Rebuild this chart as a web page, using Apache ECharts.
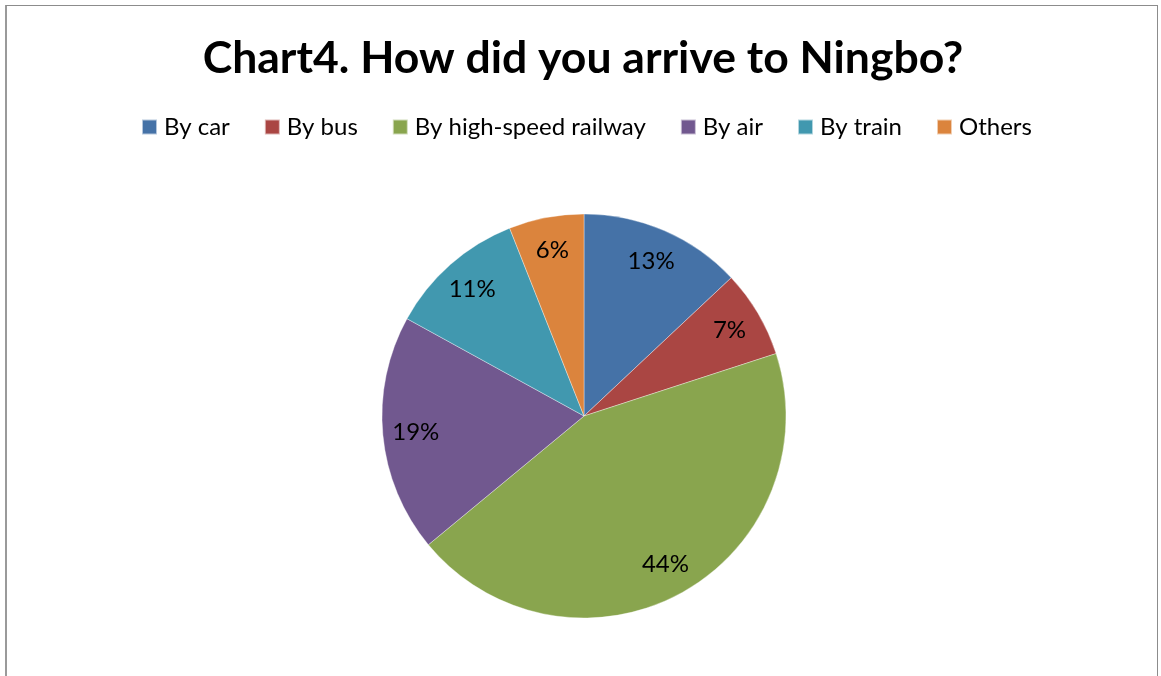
<!DOCTYPE html>
<html>
<head>
<meta charset="utf-8">
<title>Chart4. How did you arrive to Ningbo?</title>
<script src="https://cdn.jsdelivr.net/npm/echarts@6/dist/echarts.min.js"></script>
<style>
  html, body { margin: 0; padding: 0; background: #fff; }
  #chart { width: 1161px; height: 676px; }
</style>
</head>
<body>
<div id="chart"></div>
<script>
// Survey answers: how respondents travelled to Ningbo (share of respondents, %)
const categories = ['By car', 'By bus', 'By high-speed railway', 'By air', 'By train', 'Others'];
const shares = [13, 7, 44, 19, 11, 6];
const colors = ['#4572A7', '#AA4643', '#89A54E', '#71588F', '#4198AF', '#DB843D'];

const FONT = 'Lato, "Open Sans", sans-serif';

const sliceData = categories.map((name, i) => ({ name, value: shares[i], itemStyle: { color: colors[i] } }));
const labelData = categories.map((name, i) => ({ name, value: shares[i] }));

const chart = echarts.init(document.getElementById('chart'), null, { renderer: 'canvas' });

chart.setOption({
  backgroundColor: '#ffffff',
  animation: false,
  title: {
    text: 'Chart4. How did you arrive to Ningbo?',
    left: 578,
    textAlign: 'center',
    top: 31,
    textStyle: { fontFamily: FONT, fontWeight: 'bold', fontSize: 44.5, color: '#000' }
  },
  legend: {
    data: categories,
    left: 136,
    top: 110,
    width: 1000,
    itemWidth: 15,
    itemHeight: 15,
    itemGap: 34,
    icon: 'rect',
    selectedMode: false,
    textStyle: { fontFamily: FONT, fontSize: 24, color: '#000', padding: [0, 0, 0, 2] }
  },
  graphic: [
    { type: 'rect', shape: { x: 5, y: 5, width: 2, height: 680 }, style: { fill: '#9a9a9a' }, silent: true },
    { type: 'line', shape: { x1: 6, y1: 5.5, x2: 1158, y2: 5.5 }, style: { stroke: '#8c8c8c', lineWidth: 1 }, silent: true },
    { type: 'line', shape: { x1: 1157.5, y1: 5, x2: 1157.5, y2: 680 }, style: { stroke: '#8c8c8c', lineWidth: 1 }, silent: true }
  ],
  series: [
    {
      // the slices themselves
      type: 'pie',
      center: [584, 416],
      radius: [0, 202],
      startAngle: 90,
      clockwise: true,
      avoidLabelOverlap: false,
      label: { show: false },
      labelLine: { show: false },
      itemStyle: { borderColor: 'rgba(255,255,255,0.6)', borderWidth: 0.6 },
      emphasis: { disabled: true },
      data: sliceData
    },
    {
      // transparent ring carrying the percentage labels
      type: 'pie',
      center: [584, 416],
      radius: [130, 202],
      startAngle: 90,
      clockwise: true,
      silent: true,
      avoidLabelOverlap: false,
      itemStyle: { color: 'rgba(0,0,0,0)' },
      label: {
        show: true,
        position: 'inside',
        formatter: '{c}%',
        fontFamily: FONT,
        fontSize: 24,
        color: '#000'
      },
      labelLine: { show: false },
      emphasis: { disabled: true },
      data: labelData
    }
  ]
});
</script>
</body>
</html>
